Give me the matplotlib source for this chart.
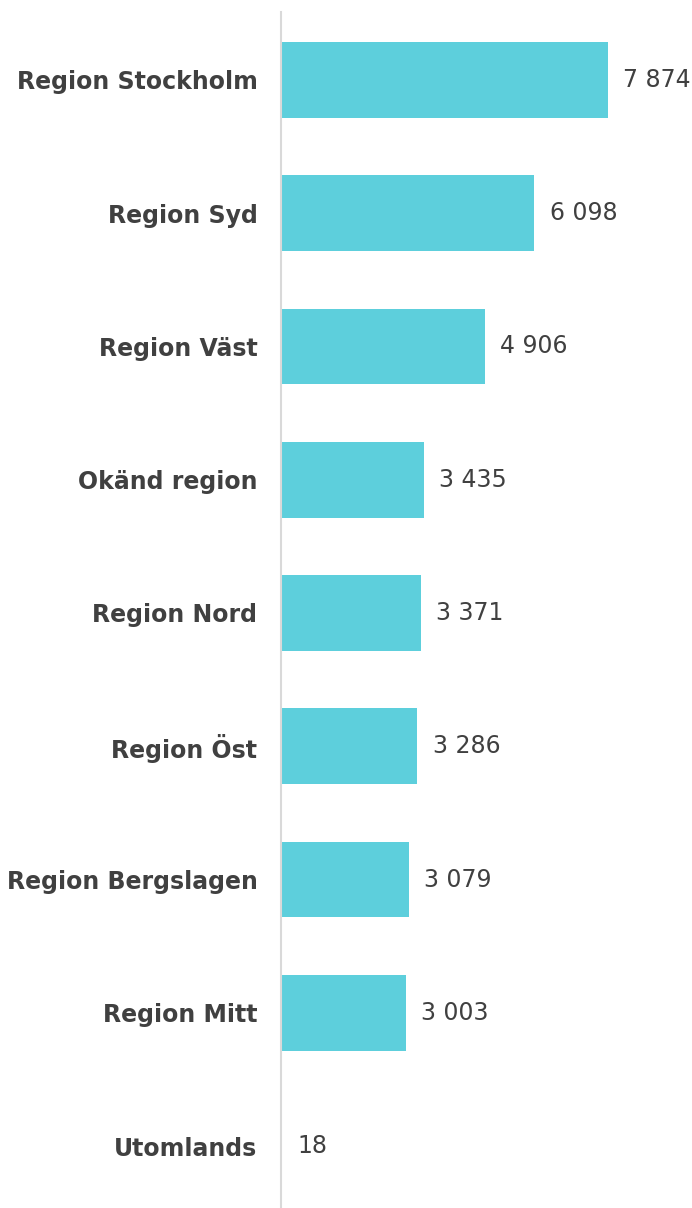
import matplotlib
matplotlib.use("Agg")
import matplotlib.pyplot as plt

plt.rcParams["font.family"] = ["DejaVu Sans"]

# data
regions = ["Region Stockholm", "Region Syd", "Region Väst", "Okänd region",
           "Region Nord", "Region Öst", "Region Bergslagen", "Region Mitt",
           "Utomlands"]
values = [7874, 6098, 4906, 3435, 3371, 3286, 3079, 3003, 18]
value_labels = ["7 874", "6 098", "4 906", "3 435", "3 371", "3 286",
                "3 079", "3 003", "18"]

BAR_COLOR = "#5DCFDC"
TEXT_COLOR = "#404040"

W, H = 692, 1208
fig = plt.figure(figsize=(W / 100, H / 100), dpi=100)
ax = fig.add_axes([281 / W, 0, 1 - 281 / W, 1 - 12 / H])

pos = list(range(len(regions)))
ax.barh(pos, values, height=0.57, color=BAR_COLOR)

for p, v, lab in zip(pos, values, value_labels):
    ax.annotate(lab, (v, p), xytext=(11, 0), textcoords="offset points",
                va="center", ha="left", fontsize=17, color=TEXT_COLOR,
                family="DejaVu Sans")

ax.set_xlim(0, 9897)
ax.set_ylim(8.465, -0.51)
ax.set_yticks(pos)
ax.set_yticklabels(regions, fontsize=17, fontweight="bold", color=TEXT_COLOR,
                   family="DejaVu Sans")
ax.tick_params(axis="y", length=0, pad=17)
ax.set_xticks([])

for s in ["top", "right", "bottom"]:
    ax.spines[s].set_visible(False)
ax.spines["left"].set_color("#D9D9D9")
ax.spines["left"].set_linewidth(1.5)

fig.savefig("out.png", dpi=100)
